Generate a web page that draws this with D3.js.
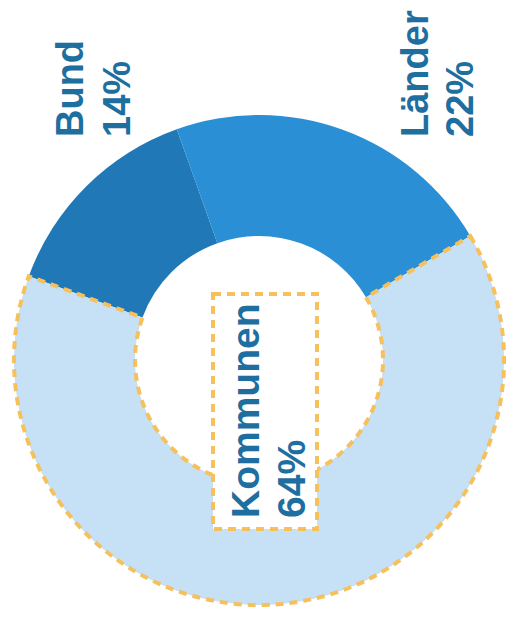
<!DOCTYPE html>
<html>
<head>
<meta charset="utf-8">
<script src="https://cdn.jsdelivr.net/npm/d3@7"></script>
<style>
    body { margin: 0; background: #fff; }
    .label { font-family: "Liberation Sans", Arial, sans-serif; font-weight: bold; fill: #1e6fa0; }
</style>
</head>
<body>
<div id="chart"></div>
<script>
const categories = ["Bund", "Länder", "Kommunen"];
const shares = [14, 22, 64];
const shareLabels = ["14%", "22%", "64%"];
const colors = ["#2079b6", "#2a8fd5", "#c6e0f6"];

const width = 513, height = 633;
const cx = 259, cy = 360;
const outerR = 245, innerR = 124;
const deg = Math.PI / 180;

const svg = d3.select("#chart").append("svg")
    .attr("width", width)
    .attr("height", height);

const g = svg.append("g").attr("transform", `translate(${cx},${cy})`);

const data = categories.map((c, i) => ({ name: c, value: shares[i], label: shareLabels[i], color: colors[i] }));

const pie = d3.pie()
    .sort(null)
    .value(d => d.value)
    .startAngle(-70 * deg)
    .endAngle(290 * deg);

const arc = d3.arc().innerRadius(innerR).outerRadius(outerR);

g.selectAll(".slice")
    .data(pie(data))
    .join("path")
    .attr("class", "slice")
    .attr("d", arc)
    .attr("fill", d => d.data.color)
    .attr("stroke", d => d.data.name === "Kommunen" ? "#f6c05c" : "none")
    .attr("stroke-width", 4)
    .attr("stroke-dasharray", "8,6");

// dashed box in the middle
svg.append("rect")
    .attr("x", 213)
    .attr("y", 294)
    .attr("width", 104)
    .attr("height", 235)
    .attr("fill", "#fff")
    .attr("stroke", "#f6c05c")
    .attr("stroke-width", 4)
    .attr("stroke-dasharray", "8,6");

// labels, rotated to read bottom-to-top
const labelPos = [
    { name: [83, 137], pct: [130, 137], size: 38 },
    { name: [428, 137], pct: [473, 137], size: 38 },
    { name: [259, 518], pct: [305, 518], size: 39 }
];

data.forEach((d, i) => {
    const p = labelPos[i];
    svg.append("text")
        .attr("class", "label")
        .attr("transform", `translate(${p.name[0]},${p.name[1]}) rotate(-90)`)
        .style("font-size", p.size + "px")
        .text(d.name);
    svg.append("text")
        .attr("class", "label")
        .attr("transform", `translate(${p.pct[0]},${p.pct[1]}) rotate(-90)`)
        .style("font-size", p.size + "px")
        .text(d.label);
});
</script>
</body>
</html>
